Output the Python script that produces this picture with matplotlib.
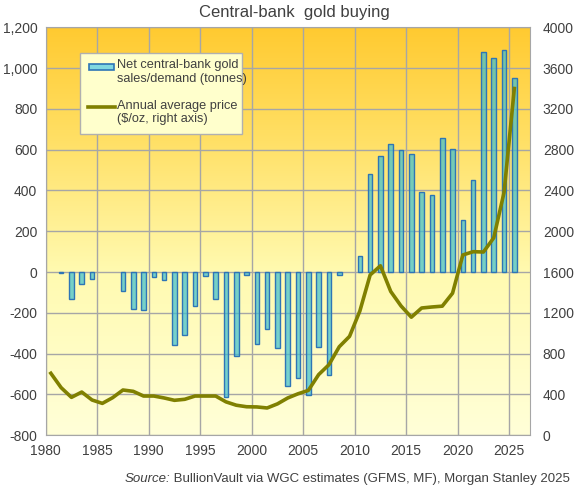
import matplotlib
matplotlib.use("Agg")
import matplotlib.pyplot as plt
import numpy as np
from matplotlib.colors import LinearSegmentedColormap
from matplotlib.patches import Rectangle
from matplotlib.lines import Line2D

plt.rcParams['font.family'] = ['Liberation Sans', 'DejaVu Sans']

# net central-bank gold sales (-) / demand (+), tonnes; nan = no bar shown
years = list(range(1980, 2026))
cb_tonnes = [np.nan, -5, -132, -59, -34, np.nan, np.nan, -95, -181, -188,
             -25, -39, -358, -309, -167, -18, -132, -611, -411, -15,
             -353, -279, -372, -560, -519, -602, -367, -504, -13, np.nan,
             78, 480, 568, 627, 597, 578, 392, 377, 656, 602,
             255, 450, 1077, 1048, 1087, 950]
# annual average gold price, $/oz
price = [608, 467, 372, 424, 346, 313, 369, 444, 431, 385,
         385, 366, 343, 353, 385, 385, 385, 328, 295, 280,
         278, 268, 308, 366, 407, 440, 595, 692, 868, 970,
         1218, 1572, 1662, 1410, 1268, 1158, 1248, 1258, 1266, 1393,
         1768, 1800, 1797, 1936, 2380, 3400]

txt = '#404040'
grid_c = '#A6A6A6'

fig = plt.figure(figsize=(5.76, 4.9), dpi=100)
ax = fig.add_axes([45.7/576, 1 - 435.3/490, 484.6/576, 408/490])

# background gradient
cmap = LinearSegmentedColormap.from_list('bg', [(0, '#FFCA30'), (0.28, '#FFE066'),
                                                (0.6, '#FFFAB0'), (1.0, '#FFFFD8')])
grad = np.linspace(0, 1, 256).reshape(-1, 1)
ax.imshow(grad, cmap=cmap, aspect='auto', extent=[0, 1, 0, 1],
          transform=ax.transAxes, zorder=0)

x = np.array(years) + 0.5
ax.bar(x, cb_tonnes, width=0.45, color='#3CBFCF', alpha=0.7,
       linewidth=0, zorder=3)
ax.bar(x, cb_tonnes, width=0.45, color='none',
       edgecolor='#2E75B6', linewidth=1.0, zorder=3)

ax.set_xlim(1980, 2027.05)
ax.set_ylim(-800, 1200)
ax.set_xticks(range(1980, 2030, 5))
ax.set_yticks(range(-800, 1400, 200))
ax.set_yticklabels([f'{v:,}' for v in range(-800, 1400, 200)])
ax.grid(True, color=grid_c, linewidth=1.0, zorder=1)
ax.set_axisbelow(True)
for s in ax.spines.values():
    s.set_color(grid_c)
ax.tick_params(length=0, colors=txt, labelsize=10, pad=6)

ax2 = ax.twinx()
ax2.plot(x, price, color='#808000', linewidth=2.6, zorder=4,
         solid_joinstyle='round')
ax2.set_ylim(0, 4000)
ax2.set_yticks(range(0, 4400, 400))
ax2.tick_params(length=0, colors=txt, labelsize=10, pad=9)
for s in ax2.spines.values():
    s.set_visible(False)

# legend box drawn by hand
def fx(px):
    return px / 576

def fy(py):
    return 1 - py / 490

fig.patches.append(Rectangle((fx(80), fy(134)), fx(162), 81/490,
                             transform=fig.transFigure, facecolor='#FFFFCC',
                             edgecolor='#B0B0B0', linewidth=1, zorder=5))
fig.patches.append(Rectangle((fx(88.5), fy(70)), fx(25.5), 5.5/490,
                             transform=fig.transFigure, facecolor='#80D8E0',
                             edgecolor='#2E75B6', linewidth=1.2, zorder=6))
fig.lines.append(Line2D([fx(88), fx(115)], [fy(107.5), fy(107.5)],
                        transform=fig.transFigure, color='#808000',
                        linewidth=2.6, zorder=6))
fig.text(fx(117), fy(59), 'Net central-bank gold\nsales/demand (tonnes)',
         fontsize=9.2, color=txt, va='top', ha='left', linespacing=1.2,
         zorder=7)
fig.text(fx(117), fy(99.5), 'Annual average price\n($/oz, right axis)',
         fontsize=9.2, color=txt, va='top', ha='left', linespacing=1.2,
         zorder=7)

fig.text(fx(294), fy(13), 'Central-bank  gold buying', fontsize=12,
         color=txt, ha='center', va='center')
src_rest = ' BullionVault via WGC estimates (GFMS, MF), Morgan Stanley 2025'
t2 = fig.text(fx(570), fy(479), src_rest, fontsize=9.5, color=txt,
              ha='right', va='center')
fig.canvas.draw()
bb = t2.get_window_extent()
fig.text(bb.x0 / fig.bbox.width, fy(479), 'Source:', fontsize=9.5, color=txt,
         ha='right', va='center', style='italic')

fig.savefig('out.png', dpi=100)
